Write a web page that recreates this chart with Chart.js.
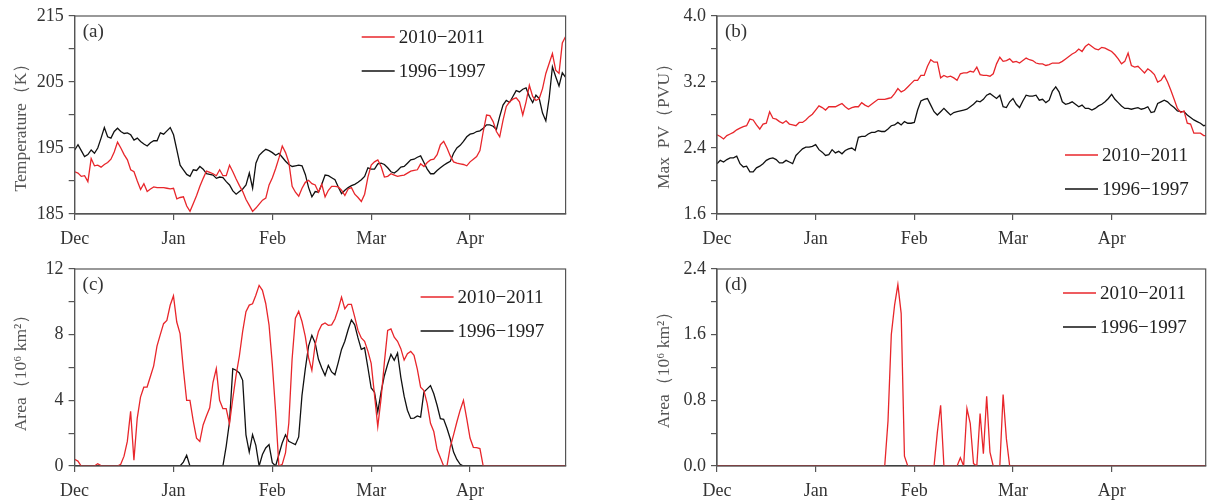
<!DOCTYPE html>
<html>
<head>
<meta charset="utf-8">
<script src="https://cdn.jsdelivr.net/npm/chart.js@4.4.0/dist/chart.umd.min.js"></script>
<style>
  html, body { margin: 0; padding: 0; background: #fff; }
  #wrap { position: relative; width: 1207px; height: 502px; overflow: hidden; }
  canvas { position: absolute; }
</style>
</head>
<body>
<div id="wrap">
  <canvas id="ca" width="600" height="250" style="left:0;top:0"></canvas>
  <canvas id="cb" width="607" height="250" style="left:600px;top:0"></canvas>
  <canvas id="cc" width="600" height="252" style="left:0;top:250px"></canvas>
  <canvas id="cd" width="607" height="252" style="left:600px;top:250px"></canvas>
</div>
<script>
// 범례 / 시리즈 이름
const seriesLabels = ['2010\u22122011', '1996\u22121997'];

// x축: 12월 1일부터의 일수, 30일 간격 눈금
const monthTickDays = [0, 30, 60, 90, 120];
const monthLabels = ['Dec', 'Jan', 'Feb', 'Mar', 'Apr'];

// (a) 기온 (K)
const tempTicks = [185, 190, 195, 200, 205, 210, 215];
const tempTickLabels = ['185', '', '195', '', '205', '', '215'];
const temp2010 = [
  191.4, 191.2, 190.7, 190.8, 189.9, 193.4, 192.3, 192.4, 192.1, 192.5,
  192.8, 193.3, 194.4, 195.9, 195.0, 194.0, 193.2, 191.7, 191.4, 190.0,
  188.7, 189.6, 188.4, 188.8, 189.1, 189.0, 189.0, 189.0, 188.9, 188.8,
  188.9, 187.3, 187.5, 187.6, 186.2, 185.4, 186.6, 187.8, 189.2, 190.4,
  191.5, 191.3, 191.1, 190.8, 191.7, 190.8, 190.8, 192.4, 191.4, 190.3,
  189.3, 188.4, 187.2, 186.3, 185.4, 185.9, 186.5, 187.1, 187.4, 189.4,
  190.5, 191.9, 193.5, 195.3, 194.3, 192.8, 189.2, 188.3, 187.7, 188.9,
  189.8, 190.1, 189.6, 189.4, 188.3, 189.5, 187.6, 188.6, 189.2, 189.2,
  189.1, 188.6, 187.8, 188.8, 189.0, 188.0, 187.5, 186.9, 188.0, 190.6,
  192.4, 192.9, 193.2, 192.2, 190.6, 190.7, 191.1, 190.9, 190.7, 190.8,
  190.9, 191.2, 191.5, 191.6, 191.7, 192.6, 192.2, 192.8, 193.2, 193.3,
  194.0, 195.5, 196.0, 195.0, 193.8, 192.9, 192.7, 192.6, 192.5, 192.3,
  192.9, 193.3, 193.7, 194.6, 197.5, 200.0, 199.9, 199.0, 197.5, 196.7,
  199.2, 201.3, 202.0, 202.4, 202.6, 202.0, 200.0, 202.0, 204.5, 202.8,
  202.2, 202.5, 204.0, 206.3, 207.8, 209.3, 206.8, 206.3, 210.9, 211.9
];
const temp1996 = [
  194.7, 195.5, 194.6, 193.7, 194.0, 194.7, 194.2, 195.0, 196.5, 198.1,
  196.7, 196.5, 197.5, 198.0, 197.5, 197.2, 197.3, 197.0, 196.2, 196.5,
  196.0, 195.6, 195.3, 195.8, 196.1, 196.1, 197.3, 197.1, 197.6, 198.1,
  197.0, 194.7, 192.4, 191.7, 191.0, 190.7, 191.7, 191.6, 192.2, 191.8,
  191.1, 191.0, 190.9, 190.4, 190.6, 190.5, 189.9, 189.4, 188.5, 188.0,
  188.4, 188.8, 189.4, 191.2, 188.9, 192.7, 193.9, 194.4, 194.8, 194.6,
  194.3, 193.9, 194.2, 193.6, 193.0, 192.5, 192.2, 192.3, 192.4, 192.3,
  191.0, 189.0, 187.6, 188.4, 188.3, 189.5, 190.9, 190.8, 190.5, 190.2,
  189.1, 188.1, 188.6, 189.0, 189.3, 189.5, 189.8, 190.2, 190.7, 192.0,
  191.8, 191.8, 192.6, 192.7, 192.5, 192.0, 191.4, 191.2, 191.6, 192.1,
  192.2, 192.7, 193.2, 193.3, 193.6, 193.8, 192.8, 191.8, 191.1, 191.1,
  191.6, 192.0, 192.4, 192.7, 193.0, 194.2, 195.0, 195.4, 196.0, 196.7,
  197.1, 197.2, 197.5, 197.6, 198.0, 198.5, 198.5, 198.3, 197.8, 199.8,
  201.5, 202.2, 201.9, 202.8, 203.7, 203.5, 203.9, 204.1, 202.8, 201.9,
  203.0, 202.5, 200.3, 199.1, 202.5, 207.3, 205.8, 204.4, 206.4, 205.7
];

// (b) 최대 PV (PVU)
const pvTicks = [1.6, 2.0, 2.4, 2.8, 3.2, 3.6, 4.0];
const pvTickLabels = ['1.6', '', '2.4', '', '3.2', '', '4.0'];
const pv2010 = [
  2.56, 2.54, 2.51, 2.55, 2.57, 2.59, 2.62, 2.64, 2.66, 2.67,
  2.75, 2.74, 2.68, 2.63, 2.69, 2.70, 2.84, 2.76, 2.75, 2.72,
  2.70, 2.73, 2.69, 2.68, 2.67, 2.71, 2.71, 2.74, 2.78, 2.81,
  2.86, 2.91, 2.89, 2.86, 2.90, 2.90, 2.90, 2.92, 2.94, 2.90,
  2.87, 2.89, 2.90, 2.90, 2.95, 2.92, 2.90, 2.93, 2.96, 2.99,
  2.99, 2.99, 3.00, 3.01, 3.06, 3.12, 3.08, 3.10, 3.14, 3.18,
  3.22, 3.22, 3.28, 3.28, 3.39, 3.47, 3.44, 3.44, 3.25, 3.28,
  3.26, 3.27, 3.25, 3.22, 3.30, 3.31, 3.31, 3.33, 3.32, 3.38,
  3.29, 3.28, 3.28, 3.27, 3.30, 3.42, 3.50, 3.45, 3.46, 3.48,
  3.44, 3.45, 3.43, 3.46, 3.49, 3.47, 3.46, 3.43, 3.42, 3.42,
  3.40, 3.41, 3.43, 3.43, 3.43, 3.45, 3.48, 3.51, 3.54, 3.56,
  3.60, 3.57, 3.63, 3.66, 3.63, 3.60, 3.59, 3.62, 3.61, 3.59,
  3.57, 3.53, 3.48, 3.42, 3.45, 3.55, 3.40, 3.38, 3.39, 3.35,
  3.31, 3.36, 3.33, 3.29, 3.20, 3.22, 3.28, 3.20, 3.10, 2.99,
  2.88, 2.83, 2.85, 2.70, 2.69, 2.58, 2.58, 2.58, 2.55, 2.55
];
const pv1996 = [
  2.21, 2.25, 2.23, 2.26, 2.28, 2.28, 2.30, 2.21, 2.17, 2.18,
  2.11, 2.11, 2.16, 2.18, 2.21, 2.25, 2.27, 2.28, 2.26, 2.22,
  2.22, 2.25, 2.23, 2.21, 2.31, 2.35, 2.39, 2.41, 2.41, 2.42,
  2.44, 2.38, 2.35, 2.31, 2.32, 2.38, 2.34, 2.36, 2.33, 2.37,
  2.39, 2.40, 2.37, 2.53, 2.54, 2.54, 2.57, 2.59, 2.59, 2.61,
  2.60, 2.60, 2.63, 2.67, 2.68, 2.71, 2.68, 2.72, 2.70, 2.70,
  2.71, 2.86, 2.97, 2.99, 3.00, 2.92, 2.84, 2.80, 2.84, 2.88,
  2.84, 2.80, 2.83, 2.84, 2.85, 2.86, 2.87, 2.90, 2.93, 2.97,
  2.96, 2.99, 3.04, 3.06, 3.03, 3.00, 3.04, 2.90, 2.89, 2.96,
  3.00, 2.93, 2.89, 2.97, 3.04, 3.03, 3.03, 3.04, 2.98, 2.99,
  2.95, 2.98, 3.09, 3.14, 3.08, 2.96, 2.93, 2.94, 2.96, 2.93,
  2.90, 2.92, 2.88, 2.88, 2.86, 2.88, 2.91, 2.93, 2.96, 3.00,
  3.05, 2.99, 2.95, 2.91, 2.88, 2.88, 2.87, 2.88, 2.89, 2.87,
  2.88, 2.90, 2.83, 2.84, 2.94, 2.96, 2.98, 2.96, 2.92, 2.89,
  2.85, 2.84, 2.84, 2.80, 2.77, 2.74, 2.72, 2.70, 2.67, 2.68
];

// (c) 면적 (10^6 km^2)
const areaTicks = [0, 2, 4, 6, 8, 10, 12];
const areaTickLabels = ['0', '', '4', '', '8', '', '12'];
const area2010 = [
  0.41, 0.30, 0, 0, 0, 0, 0, 0.14, 0.02, 0,
  0, 0, 0, 0, 0.10, 0.60, 1.50, 3.33, 0.35, 2.90,
  4.20, 4.80, 4.81, 5.45, 6.10, 7.30, 8.00, 8.67, 8.87, 9.79,
  10.36, 8.77, 8.06, 5.90, 4.00, 4.00, 2.75, 1.70, 1.50, 2.50,
  3.05, 3.55, 5.10, 5.93, 4.00, 3.49, 3.49, 2.58, 4.10, 5.52,
  6.70, 8.20, 9.40, 9.80, 9.88, 10.40, 11.00, 10.70, 9.90, 8.60,
  6.20, 3.30, 0, 0.10, 0.80, 2.60, 6.50, 9.00, 9.42, 8.80,
  7.90, 6.60, 5.83, 7.40, 8.20, 8.60, 8.71, 8.57, 8.60, 8.95,
  9.55, 10.29, 9.58, 9.85, 9.85, 9.08, 8.26, 7.80, 7.60, 7.00,
  6.25, 4.35, 2.40, 4.10, 6.30, 8.26, 8.35, 7.85, 7.60, 7.15,
  6.45, 6.84, 6.98, 6.74, 5.90, 4.80, 4.60, 3.80, 2.60, 2.10,
  1.00, 0.50, 0, 0, 1.16, 1.90, 2.68, 3.40, 4.00, 2.88,
  1.70, 1.14, 1.12, 1.06, 0, 0, 0, 0, 0, 0,
  0, 0, 0, 0, 0, 0, 0, 0, 0, 0,
  0, 0, 0, 0, 0, 0, 0, 0, 0, 0
];
const area1996 = [
  0, 0, 0, 0, 0, 0, 0, 0, 0, 0,
  0, 0, 0, 0, 0, 0, 0, 0, 0, 0,
  0, 0, 0, 0, 0, 0, 0, 0, 0, 0,
  0, 0, 0, 0.24, 0.65, 0, 0, 0, 0, 0,
  0, 0, 0, 0, 0, 0, 1.20, 2.68, 5.93, 5.83,
  5.67, 5.22, 1.90, 0.85, 1.91, 1.26, 0, 0.70, 1.10, 1.30,
  0.20, 0, 0.70, 1.40, 1.90, 1.50, 1.40, 1.30, 1.77, 4.30,
  5.90, 7.30, 7.96, 7.50, 6.50, 5.97, 5.52, 6.13, 5.73, 5.56,
  6.30, 7.10, 7.60, 8.30, 8.90, 8.60, 7.80, 7.10, 7.20, 6.00,
  4.75, 4.50, 3.30, 4.50, 5.50, 6.20, 6.80, 6.44, 6.88, 5.40,
  4.25, 3.40, 2.90, 2.92, 3.05, 2.98, 4.50, 4.70, 4.90, 4.40,
  3.70, 2.88, 2.84, 2.30, 1.66, 0.85, 0.40, 0.10, 0, 0,
  0, 0, 0, 0, 0, 0, 0, 0, 0, 0,
  0, 0, 0, 0, 0, 0, 0, 0, 0, 0,
  0, 0, 0, 0, 0, 0, 0, 0, 0, 0
];

// (d) 면적 (10^6 km^2)
const areaDTicks = [0, 0.4, 0.8, 1.2, 1.6, 2.0, 2.4];
const areaDTickLabels = ['0.0', '', '0.8', '', '1.6', '', '2.4'];
const areaD2010 = [
  0, 0, 0, 0, 0, 0, 0, 0, 0, 0,
  0, 0, 0, 0, 0, 0, 0, 0, 0, 0,
  0, 0, 0, 0, 0, 0, 0, 0, 0, 0,
  0, 0, 0, 0, 0, 0, 0, 0, 0, 0,
  0, 0, 0, 0, 0, 0, 0, 0, 0, 0,
  0, 0, 0.55, 1.60, 1.96, 2.21, 1.86, 0.12, 0, 0,
  0, 0, 0, 0, 0, 0, 0, 0.41, 0.74, 0,
  0, 0, 0, 0, 0.10, 0, 0.70, 0.52, 0.03, 0,
  0.64, 0.15, 0.85, 0.17, 0, 0, 0, 0.87, 0.33, 0,
  0, 0, 0, 0, 0, 0, 0, 0, 0, 0,
  0, 0, 0, 0, 0, 0, 0, 0, 0, 0,
  0, 0, 0, 0, 0, 0, 0, 0, 0, 0,
  0, 0, 0, 0, 0, 0, 0, 0, 0, 0,
  0, 0, 0, 0, 0, 0, 0, 0, 0, 0,
  0, 0, 0, 0, 0, 0, 0, 0, 0, 0
];
const areaD1996 = [
  0, 0, 0, 0, 0, 0, 0, 0, 0, 0,
  0, 0, 0, 0, 0, 0, 0, 0, 0, 0,
  0, 0, 0, 0, 0, 0, 0, 0, 0, 0,
  0, 0, 0, 0, 0, 0, 0, 0, 0, 0,
  0, 0, 0, 0, 0, 0, 0, 0, 0, 0,
  0, 0, 0, 0, 0, 0, 0, 0, 0, 0,
  0, 0, 0, 0, 0, 0, 0, 0, 0, 0,
  0, 0, 0, 0, 0, 0, 0, 0, 0, 0,
  0, 0, 0, 0, 0, 0, 0, 0, 0, 0,
  0, 0, 0, 0, 0, 0, 0, 0, 0, 0,
  0, 0, 0, 0, 0, 0, 0, 0, 0, 0,
  0, 0, 0, 0, 0, 0, 0, 0, 0, 0,
  0, 0, 0, 0, 0, 0, 0, 0, 0, 0,
  0, 0, 0, 0, 0, 0, 0, 0, 0, 0,
  0, 0, 0, 0, 0, 0, 0, 0, 0, 0
];

const SERIF = '"Liberation Serif", "DejaVu Serif", serif';
const RED = '#e8262b';
const BLACK = '#111111';
const FRAME = '#555555';

// 값 배열 -> {x: 일수, y: 값}
const toPoints = values => values.map((v, i) => ({ x: i, y: v }));

// 테두리, 패널 번호, y축 제목, 범례를 그리는 플러그인
const panelDecor = {
  id: 'panelDecor',
  afterDraw(chart, args, opts) {
    const { ctx, chartArea: a } = chart;
    ctx.save();
    ctx.strokeStyle = FRAME;
    ctx.lineWidth = 1.2;
    ctx.strokeRect(a.left, a.top, a.right - a.left, a.bottom - a.top);

    ctx.fillStyle = '#333';
    ctx.font = '19px ' + SERIF;
    ctx.textBaseline = 'top';
    ctx.textAlign = 'left';
    ctx.fillText(opts.tag, a.left + 8, a.top + 7);

    ctx.save();
    ctx.translate(a.left - 53, (a.top + a.bottom) / 2 + opts.titleShift);
    ctx.rotate(-Math.PI / 2);
    ctx.textAlign = 'center';
    ctx.textBaseline = 'middle';
    ctx.fillStyle = '#555';
    ctx.font = '17.5px ' + SERIF;
    ctx.fillText(opts.yTitle, 0, 0);
    ctx.restore();

    chart.data.datasets.forEach((ds, i) => {
      const y = a.top + opts.legendY + i * 34;
      const x0 = a.left + opts.legendX;
      ctx.strokeStyle = ds.borderColor;
      ctx.lineWidth = 1.4;
      ctx.beginPath();
      ctx.moveTo(x0, y);
      ctx.lineTo(x0 + 33, y);
      ctx.stroke();
      ctx.fillStyle = '#222';
      ctx.font = '19px ' + SERIF;
      ctx.textBaseline = 'middle';
      ctx.fillText(ds.label, x0 + 37, y + 1);
    });
    ctx.restore();
  }
};

function makePanel(id, cfg) {
  const tickFont = { family: SERIF, size: 18 };
  return new Chart(document.getElementById(id), {
    type: 'line',
    data: {
      datasets: [
        { label: seriesLabels[0], data: toPoints(cfg.red), borderColor: RED, borderWidth: 1.3, pointRadius: 0, tension: 0 },
        { label: seriesLabels[1], data: toPoints(cfg.black), borderColor: BLACK, borderWidth: 1.3, pointRadius: 0, tension: 0 }
      ]
    },
    options: {
      responsive: false,
      animation: false,
      devicePixelRatio: 1,
      layout: { padding: { top: cfg.padTop, right: cfg.padRight, left: 0, bottom: 0 } },
      plugins: {
        legend: { display: false },
        tooltip: { enabled: false },
        panelDecor: {
          tag: cfg.tag, yTitle: cfg.yTitle, titleShift: cfg.titleShift,
          legendX: cfg.legendX, legendY: cfg.legendY
        }
      },
      scales: {
        x: {
          type: 'linear',
          min: 0,
          max: cfg.xMax,
          afterBuildTicks: s => { s.ticks = monthTickDays.map(v => ({ value: v })); },
          afterFit: s => { s.height = cfg.xAxisH; },
          ticks: {
            callback: v => monthLabels[monthTickDays.indexOf(v)],
            font: tickFont, color: '#333', padding: 8, maxRotation: 0, autoSkip: false
          },
          grid: { drawOnChartArea: false, tickLength: 6, color: FRAME, lineWidth: 1.2 },
          border: { color: FRAME, width: 1.2 }
        },
        y: {
          min: cfg.yTicks[0],
          max: cfg.yTicks[cfg.yTicks.length - 1],
          afterBuildTicks: s => { s.ticks = cfg.yTicks.map(v => ({ value: v })); },
          afterFit: s => { s.width = cfg.yAxisW; },
          ticks: {
            callback: v => cfg.yLabels[cfg.yTicks.indexOf(v)],
            font: tickFont, color: '#333', padding: 5, autoSkip: false
          },
          grid: { drawOnChartArea: false, tickLength: 6, color: FRAME, lineWidth: 1.2 },
          border: { color: FRAME, width: 1.2 }
        }
      }
    },
    plugins: [panelDecor]
  });
}

makePanel('ca', {
  red: temp2010, black: temp1996, yTicks: tempTicks, yLabels: tempTickLabels,
  tag: '(a)', yTitle: 'Temperature\uFF08K\uFF09', titleShift: 8,
  padTop: 16, padRight: 34.4, yAxisW: 74.7, xAxisH: 36, xMax: 149,
  legendX: 287, legendY: 21
});
makePanel('cb', {
  red: pv2010, black: pv1996, yTicks: pvTicks, yLabels: pvTickLabels,
  tag: '(b)', yTitle: 'Max  PV\uFF08PVU\uFF09', titleShift: 7,
  padTop: 16, padRight: 1.3, yAxisW: 117, xAxisH: 36, xMax: 148.6,
  legendX: 348, legendY: 139
});
makePanel('cc', {
  red: area2010, black: area1996, yTicks: areaTicks, yLabels: areaTickLabels,
  tag: '(c)', yTitle: 'Area\uFF0810\u2076 km\u00B2\uFF09', titleShift: 1,
  padTop: 19, padRight: 34.4, yAxisW: 74.6, xAxisH: 36, xMax: 149,
  legendX: 346, legendY: 28
});
makePanel('cd', {
  red: areaD2010, black: areaD1996, yTicks: areaDTicks, yLabels: areaDTickLabels,
  tag: '(d)', yTitle: 'Area\uFF0810\u2076 km\u00B2\uFF09', titleShift: -2,
  padTop: 19, padRight: 1.3, yAxisW: 117, xAxisH: 36, xMax: 148.6,
  legendX: 346, legendY: 24
});
</script>
</body>
</html>
